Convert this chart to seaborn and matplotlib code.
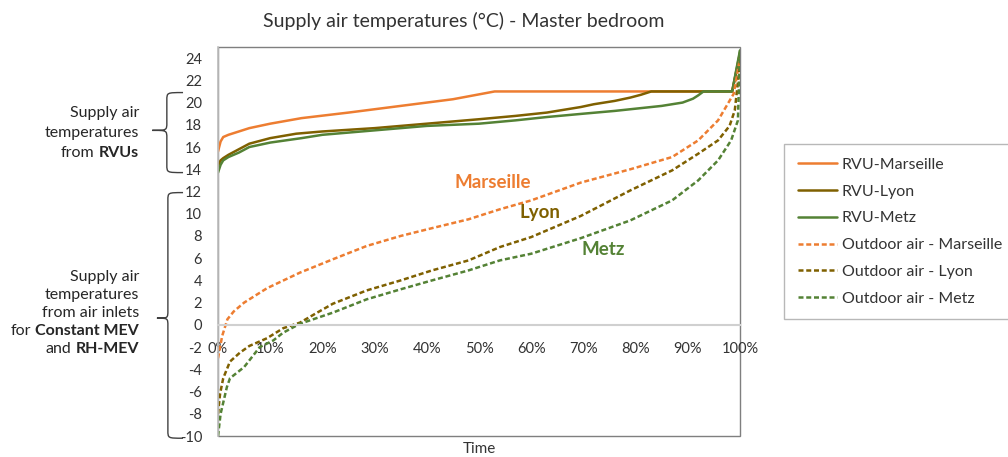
import matplotlib
matplotlib.use('Agg')
import matplotlib.pyplot as plt
import matplotlib.transforms as mtransforms
import pandas as pd
import seaborn as sns
from matplotlib.path import Path
from matplotlib.patches import PathPatch, Rectangle
from matplotlib.offsetbox import TextArea, HPacker, VPacker, AnnotationBbox
from matplotlib.ticker import FuncFormatter

# Duration curves: share of time (%) -> supply air temperature (°C)
rvu_marseille_x = [0, 0.5, 1, 2, 4, 6, 10, 16, 25, 35, 45, 53, 98.5, 100]
rvu_marseille_y = [15.6, 16.5, 16.9, 17.1, 17.4, 17.7, 18.1, 18.6, 19.1, 19.7, 20.3, 21.0, 21.0, 24.3]

rvu_lyon_x = [0, 0.5, 1, 2, 4, 6, 10, 15, 20, 30, 40, 50, 57, 63, 69.5, 72, 76, 79, 81, 83, 98.5, 100]
rvu_lyon_y = [14.3, 14.8, 15.0, 15.3, 15.8, 16.3, 16.8, 17.2, 17.4, 17.7, 18.1, 18.5, 18.8, 19.1, 19.6, 19.85, 20.15, 20.45, 20.7, 21.0, 21.0, 24.5]

rvu_metz_x = [0, 0.5, 1, 2, 4, 6, 10, 16, 20, 30, 40, 50, 57, 63, 70, 76, 85, 89, 91, 92, 93, 98.5, 100]
rvu_metz_y = [13.7, 14.4, 14.8, 15.1, 15.5, 16.0, 16.4, 16.8, 17.1, 17.5, 17.9, 18.1, 18.4, 18.7, 19.0, 19.25, 19.7, 20.0, 20.35, 20.65, 21.0, 21.0, 24.7]

out_marseille_x = [0, 0.8, 1.8, 3, 5, 9.4, 15.7, 22, 28.5, 35, 41, 48, 54, 60, 69.5, 79, 87, 92, 95.8, 98.8, 100]
out_marseille_y = [-3.0, -1.0, 0.5, 1.2, 2.0, 3.3, 4.7, 5.9, 7.1, 8.0, 8.7, 9.5, 10.4, 11.2, 12.8, 14.0, 15.1, 16.6, 18.4, 20.8, 24.0]

out_lyon_x = [0, 0.4, 1, 2.3, 4.2, 6, 9.4, 12.5, 15.7, 19, 22, 28.5, 35, 41, 48, 54, 60, 69.5, 79, 87, 92, 95.8, 98, 99, 100]
out_lyon_y = [-8.0, -6.2, -4.8, -3.3, -2.5, -1.9, -1.2, -0.3, 0.2, 1.1, 1.9, 3.1, 4.0, 4.9, 5.8, 7.0, 7.9, 9.8, 12.1, 13.9, 15.4, 16.6, 17.9, 19.3, 23.5]

out_metz_x = [0, 0.5, 1.7, 2.3, 5, 8, 10.6, 12.5, 15.7, 22, 28.5, 35, 41, 48, 54, 60, 69.5, 79, 87, 92, 95.8, 98.3, 99.6, 100]
out_metz_y = [-10.0, -8.0, -5.6, -4.8, -3.8, -2.0, -1.4, -0.7, 0.1, 1.1, 2.3, 3.2, 4.0, 4.9, 5.8, 6.4, 7.8, 9.4, 11.2, 13.0, 14.8, 16.6, 18.4, 24.7]

names = ['RVU-Marseille', 'RVU-Lyon', 'RVU-Metz',
         'Outdoor air - Marseille', 'Outdoor air - Lyon', 'Outdoor air - Metz']
xs = [rvu_marseille_x, rvu_lyon_x, rvu_metz_x, out_marseille_x, out_lyon_x, out_metz_x]
ys = [rvu_marseille_y, rvu_lyon_y, rvu_metz_y, out_marseille_y, out_lyon_y, out_metz_y]

ORANGE, OLIVE, GREEN = '#ED7D31', '#7F6000', '#548235'
colors = [ORANGE, OLIVE, GREEN, ORANGE, OLIVE, GREEN]

df = pd.concat([pd.DataFrame({'time': x, 'temp': y, 'series': n})
                for n, x, y in zip(names, xs, ys)], ignore_index=True)

sns.set_theme(style='white')
plt.rcParams['font.family'] = ['Lato', 'DejaVu Sans']
plt.rcParams['axes.unicode_minus'] = False

fig = plt.figure(figsize=(10.08, 4.57), dpi=100)
ax = fig.add_axes([218 / 1008, 1 - 436 / 457, 522 / 1008, 389 / 457])

dashes = {n: ('' if n.startswith('RVU') else (2, 1.1)) for n in names}
sns.lineplot(data=df, x='time', y='temp', hue='series', style='series',
             hue_order=names, style_order=names, palette=dict(zip(names, colors)),
             dashes=dashes, linewidth=1.8, estimator=None, sort=False,
             legend=False, ax=ax)

ax.set_xlim(0, 100)
ax.set_ylim(-10, 25)
ax.set_yticks(range(-10, 25, 2))
ax.set_xticks(range(0, 101, 10))
ax.xaxis.set_major_formatter(FuncFormatter(lambda v, _: f'{v:.0f}%'))
ax.tick_params(axis='both', length=0, labelsize=10.5, colors='#333333')
ax.tick_params(axis='y', pad=11.5)
ax.tick_params(axis='x', pad=12.5)

# axis line at 0, box around plot area
for s in ['top', 'right']:
    ax.spines[s].set_visible(False)
ax.spines['bottom'].set_position(('data', 0))
ax.spines['bottom'].set_color('#D0D0D0')
ax.spines['bottom'].set_linewidth(1.5)
ax.spines['left'].set_color('#BFBFBF')
ax.spines['left'].set_linewidth(1.2)
ax.add_patch(Rectangle((0, 0), 1, 1, transform=ax.transAxes, fill=False,
                       edgecolor='#7F7F7F', lw=1, clip_on=False, zorder=0))

ax.set_xlabel('Time', fontsize=11, color='#333333')
ax.xaxis.set_label_coords(0.5, -0.016)
ax.set_ylabel('')
ax.set_title('Supply air temperatures (°C) - Master bedroom', fontsize=14,
             color='#333333', x=0.471, y=1.067, va='center', pad=0)

# in-plot series labels
ax.text(52.7, 12.8, 'Marseille', color=ORANGE, fontweight='bold', fontsize=13.5, ha='center', va='center')
ax.text(61.7, 10.1, 'Lyon', color=OLIVE, fontweight='bold', fontsize=13.5, ha='center', va='center')
ax.text(73.8, 6.8, 'Metz', color=GREEN, fontweight='bold', fontsize=13.5, ha='center', va='center')

leg = ax.legend(ax.get_lines()[:6], names, loc='upper left',
                bbox_to_anchor=(784 / 1008, 1 - 144 / 457), bbox_transform=fig.transFigure,
                frameon=True, fancybox=False, edgecolor='#A6A6A6', fontsize=11.5,
                handlelength=2.45, handletextpad=0.3, labelspacing=0.79,
                borderpad=0.85, borderaxespad=0)
leg.get_frame().set_linewidth(1)
for t in leg.get_texts():
    t.set_color('#333333')


# curly braces on the left
def brace(x_end, x_v, x_tip, y0, y1, y_mid, d=0.7):
    trans = mtransforms.blended_transform_factory(ax.transAxes, ax.transData)
    verts = [(x_end, y1),
             (x_v, y1), (x_v, y1), (x_v, y1 - d),
             (x_v, y_mid + d),
             (x_v, y_mid), (x_v, y_mid), (x_tip, y_mid),
             (x_v, y_mid), (x_v, y_mid), (x_v, y_mid - d),
             (x_v, y0 + d),
             (x_v, y0), (x_v, y0), (x_end, y0)]
    codes = [Path.MOVETO] + [Path.CURVE4] * 3 + [Path.LINETO] + [Path.CURVE4] * 6 + \
            [Path.LINETO] + [Path.CURVE4] * 3
    ax.add_patch(PathPatch(Path(verts, codes), transform=trans, fill=False,
                           edgecolor='#404040', lw=1, clip_on=False))


brace(-0.067, -0.098, -0.126, 13.7, 20.9, 17.5)
brace(-0.067, -0.096, -0.117, -10.2, 11.9, 0.6)


def text_block(lines, xy, sep):
    rows = []
    for parts in lines:
        areas = [TextArea(t, textprops=dict(fontsize=11.5, color='#262626',
                                            fontweight='bold' if b else 'normal'))
                 for t, b in parts]
        rows.append(HPacker(children=areas, align='baseline', pad=0, sep=3))
    box = VPacker(children=rows, align='right', pad=0, sep=sep)
    fig.add_artist(AnnotationBbox(box, xy, xycoords='figure pixels', box_alignment=(1, 0.5),
                                  frameon=False, pad=0))


text_block([[('Supply air', False)], [('temperatures', False)],
            [('from', False), ('RVUs', True)]], (139, 457 - 133), 4.5)
text_block([[('Supply air', False)], [('temperatures', False)], [('from air inlets', False)],
            [('for', False), ('Constant MEV', True)], [('and', False), ('RH-MEV', True)]],
           (139, 457 - 313), 3)

fig.savefig('out.png', dpi=100)
